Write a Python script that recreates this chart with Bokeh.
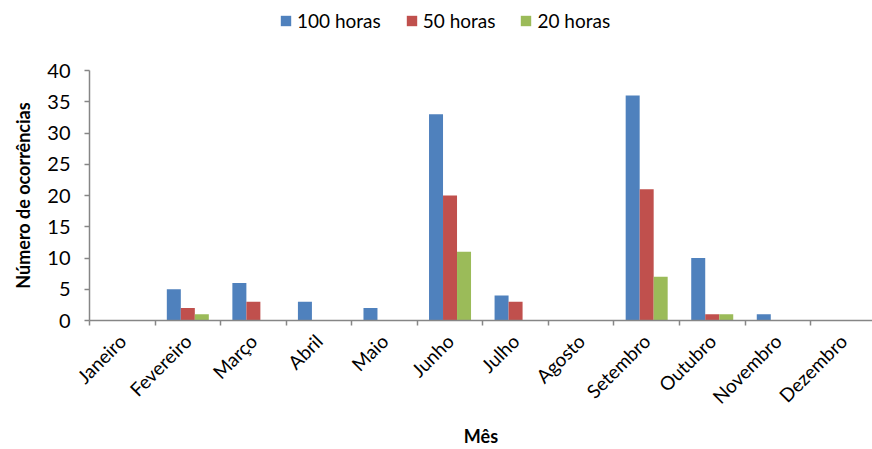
from math import pi

from bokeh.embed import file_html
from bokeh.layouts import column
from bokeh.resources import INLINE
from bokeh.plotting import figure
from bokeh.models import (ColumnDataSource, Range1d, FixedTicker, Legend,
                          LegendItem)
from bokeh.transform import dodge

# Monthly occurrence counts per duration threshold
meses = ["Janeiro", "Fevereiro", "Março", "Abril", "Maio", "Junho", "Julho",
         "Agosto", "Setembro", "Outubro", "Novembro", "Dezembro"]
horas_100 = [0, 5, 6, 3, 2, 33, 4, 0, 36, 10, 1, 0]
horas_50 = [0, 2, 3, 0, 0, 20, 3, 0, 21, 1, 0, 0]
horas_20 = [0, 1, 0, 0, 0, 11, 0, 0, 7, 1, 0, 0]
y_ticks = [0, 5, 10, 15, 20, 25, 30, 35, 40]

series = [
    ("100 horas", "h100", "#4F81BD"),
    ("50 horas", "h50", "#C0504D"),
    ("20 horas", "h20", "#9BBB59"),
]

FONT = "Lato"
AXIS_COLOR = "#868686"
BAR_W = 0.2136

centers = [i + 0.5 for i in range(len(meses))]
source = ColumnDataSource(dict(
    x=centers,
    h100=horas_100,
    h50=horas_50,
    h20=horas_20,
))

p = figure(width=872, height=399, output_backend="svg", toolbar_location=None,
           x_range=Range1d(0, 11.945), y_range=Range1d(0, 40),
           min_border_left=89, min_border_right=0, min_border_top=20,
           min_border_bottom=129)
p.outline_line_color = None
p.xgrid.visible = False
p.ygrid.visible = False
p.background_fill_color = "white"
p.border_fill_color = "white"

for k, (name, col, color) in enumerate(series):
    p.vbar(x=dodge("x", (k - 1) * BAR_W), top=col, width=BAR_W,
           source=source, fill_color=color, line_color=None)

# x axis: boundary ticks as minor ticks, month names at the centres
xa = p.xaxis[0]
xa.ticker = FixedTicker(ticks=centers, minor_ticks=list(range(13)))
xa.major_label_overrides = {c: m for c, m in zip(centers, meses)}
xa.major_label_orientation = pi / 4
xa.major_tick_line_color = None
xa.major_tick_out = 0
xa.major_tick_in = 0
xa.minor_tick_line_color = AXIS_COLOR
xa.minor_tick_out = 5
xa.minor_tick_in = 0
xa.axis_line_color = AXIS_COLOR
xa.axis_line_width = 1.5
xa.minor_tick_line_width = 1.5
xa.major_label_text_font = FONT
xa.major_label_text_font_size = "19px"
xa.major_label_text_color = "black"
xa.major_label_standoff = 12
xa.axis_label = "Mês"
xa.axis_label_text_font = FONT
xa.axis_label_text_font_style = "bold"
xa.axis_label_text_font_size = "18px"
xa.axis_label_text_color = "black"
xa.axis_label_standoff = 6

ya = p.yaxis[0]
ya.ticker = FixedTicker(ticks=y_ticks, minor_ticks=[])
ya.axis_line_color = AXIS_COLOR
ya.axis_line_width = 1.5
ya.major_tick_line_color = AXIS_COLOR
ya.major_tick_line_width = 1.5
ya.major_tick_out = 5
ya.major_tick_in = 0
ya.major_label_text_font = FONT
ya.major_label_text_font_size = "20px"
ya.major_label_text_color = "black"
ya.major_label_standoff = 14
ya.axis_label = "Número de ocorrências"
ya.axis_label_text_font = FONT
ya.axis_label_text_font_style = "bold"
ya.axis_label_text_font_size = "18px"
ya.axis_label_text_color = "black"
ya.axis_label_standoff = 10

# Legend strip above the chart; its swatch renderers sit outside the view
top = figure(width=872, height=50, output_backend="svg", toolbar_location=None,
             x_range=Range1d(0, 1), y_range=Range1d(0, 1),
             min_border=0)
top.axis.visible = False
top.grid.visible = False
top.outline_line_color = None
swatch = ColumnDataSource(dict(x=[-10.0], top=[0.0]))
items = []
for name, col, color in series:
    r = top.vbar(x="x", top="top", width=0.1, source=swatch,
                 fill_color=color, line_color=None)
    items.append(LegendItem(label=name, renderers=[r]))

legend = Legend(items=items, orientation="horizontal", location=(190, 18))
legend.label_text_font = FONT
legend.label_text_font_size = "19px"
legend.label_text_color = "black"
legend.glyph_width = 13
legend.glyph_height = 13
legend.label_standoff = 5
legend.spacing = 24
legend.border_line_color = None
legend.background_fill_alpha = 0
legend.padding = 4
legend.margin = 0
top.add_layout(legend)

layout = column(top, p, spacing=0)
open("out.html", "w").write(file_html(layout, INLINE))
